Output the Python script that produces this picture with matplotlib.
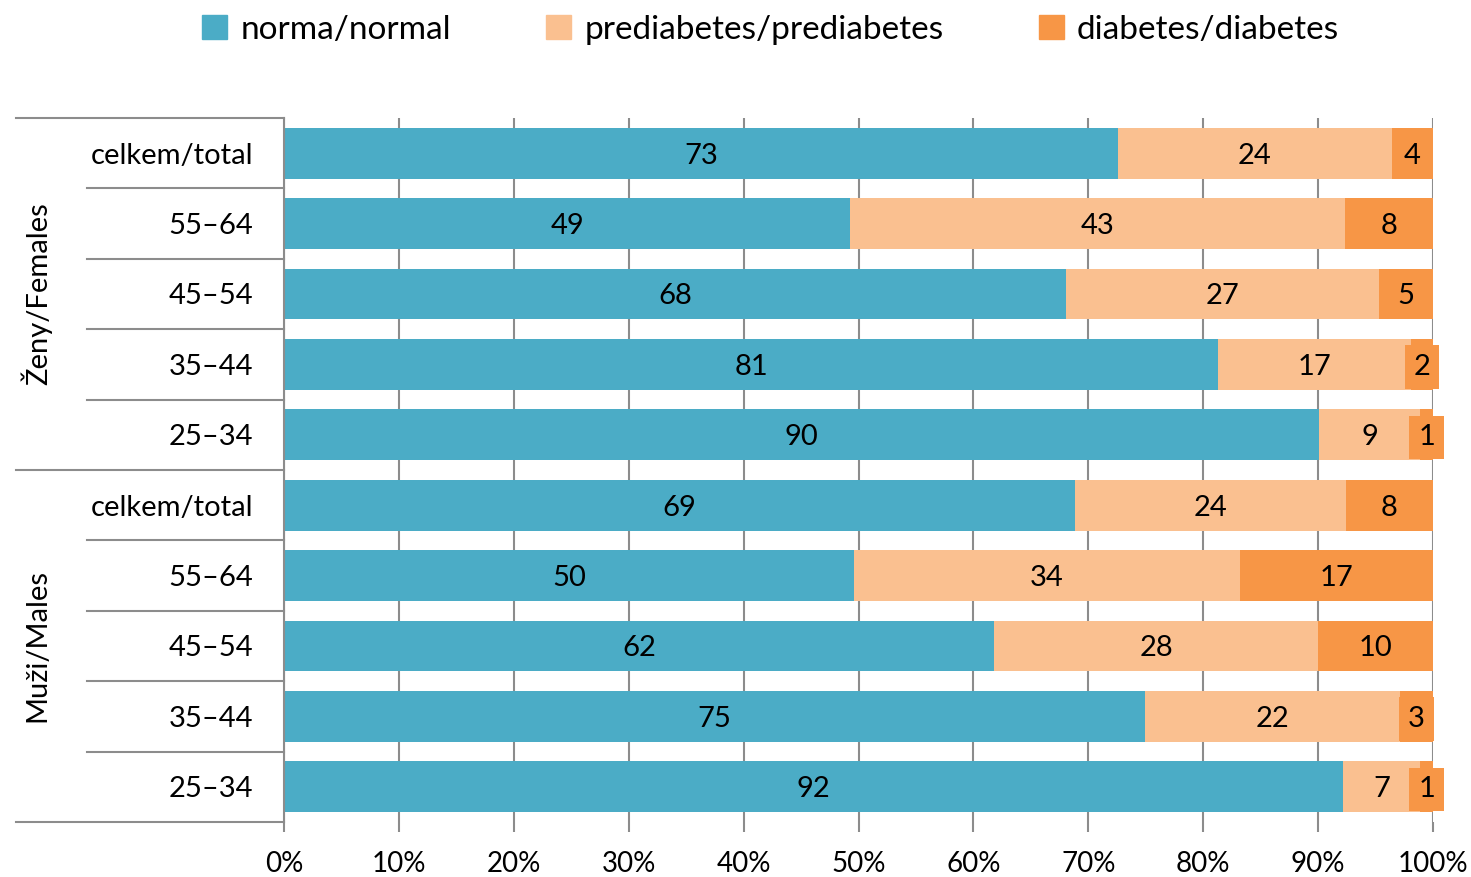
import numpy as np
import matplotlib.pyplot as plt
from matplotlib.patches import Patch

plt.rcParams['font.family'] = ['Lato', 'DejaVu Sans']

# kategorier, ovenfra og ned
kategorier = ['celkem/total', '55–64', '45–54', '35–44', '25–34',
              'celkem/total', '55–64', '45–54', '35–44', '25–34']
grupper = ['Ženy/Females', 'Muži/Males']

# andeler i prosent
normal = [72.6, 49.3, 68.1, 81.3, 90.1, 68.8, 49.6, 61.8, 74.9, 92.2]
prediabetes = [23.8, 43.0, 27.2, 16.8, 8.8, 23.6, 33.6, 28.2, 22.2, 6.7]
diabetes = [3.6, 7.7, 4.7, 1.9, 1.1, 7.6, 16.8, 10.0, 2.9, 1.1]

serier = ['norma/normal', 'prediabetes/prediabetes', 'diabetes/diabetes']
farger = ['#4BACC6', '#FAC090', '#F79646']

fig = plt.figure(figsize=(14.71, 8.77), dpi=100)
ax = fig.add_axes([284/1471, 1 - 822/877, 1149/1471, (822 - 118)/877])

y = np.arange(len(kategorier))
venstre = np.zeros(len(kategorier))
for verdier, farge in zip([normal, prediabetes, diabetes], farger):
    v = np.array(verdier)
    ax.barh(y, v, left=venstre, height=0.72, color=farge, zorder=2)
    for yi, l, w in zip(y, venstre, v):
        boks = None
        if farge == farger[2]:
            boks = dict(boxstyle='square,pad=0.3', fc=farge, ec='none')
        ax.text(l + w / 2, yi, '%.0f' % w, ha='center', va='center_baseline',
                fontsize=21, color='black', zorder=4, bbox=boks)
    venstre += v

ax.set_xlim(0, 100)
ax.set_ylim(len(kategorier) - 0.5, -0.5)
ax.set_xticks(np.arange(0, 101, 10))
ax.set_xticklabels(['%d%%' % t for t in range(0, 101, 10)], fontsize=20)
ax.set_yticks(y)
ax.set_yticklabels(kategorier, fontsize=21)
ax.tick_params(axis='y', length=0, pad=22)
ax.tick_params(axis='x', length=7, width=1.5, color='#8c8c8c', pad=14)
ax.grid(axis='x', color='#8c8c8c', linewidth=1.5, zorder=0)
for s in ['top', 'right', 'bottom']:
    ax.spines[s].set_visible(False)
ax.spines['left'].set_color('#8c8c8c')
ax.spines['left'].set_linewidth(1.5)

# skillelinjer for kategoriaksen
tr = ax.get_yaxis_transform()
x_ytre = (16 - 284) / 1149
x_indre = (87 - 284) / 1149
for i in range(len(kategorier) + 1):
    grense = i - 0.5
    x0 = x_ytre if i % 5 == 0 else x_indre
    ax.plot([x0, 0], [grense, grense], transform=tr, color='#8c8c8c',
            linewidth=1.5, clip_on=False)

# gruppenavn
for g, navn in enumerate(grupper):
    ax.text((37 - 284) / 1149, g * 5 + 2, navn, transform=tr, rotation=90,
            ha='center', va='center', fontsize=21)

handles = [Patch(color=f) for f in farger]
fig.legend(handles, serier, loc='center', bbox_to_anchor=(0.524, 0.966),
           ncol=3, frameon=False, fontsize=24, handlelength=0.75,
           handleheight=0.75, handletextpad=0.4, columnspacing=2.85)

fig.savefig('out.png', dpi=100)
